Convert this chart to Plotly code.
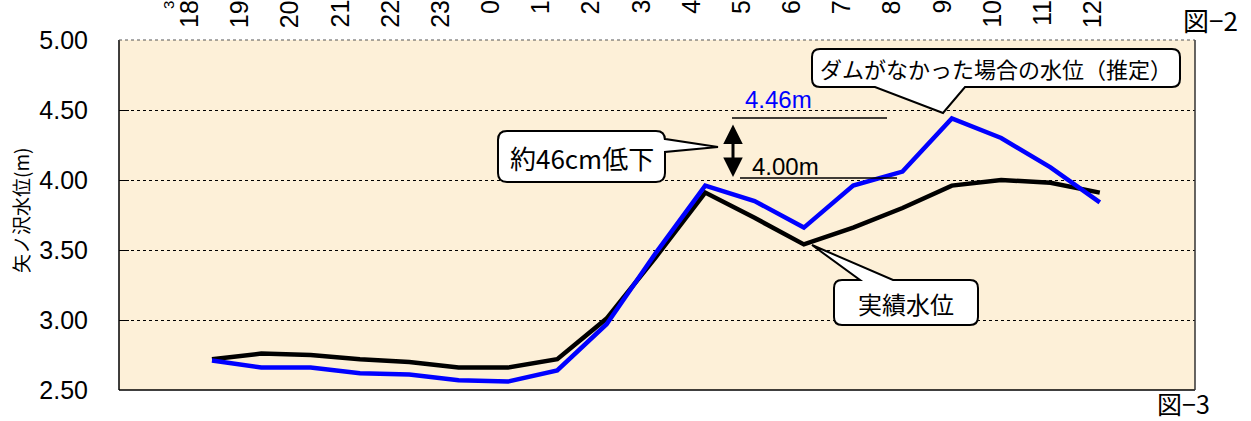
import plotly.graph_objects as go

# ---- data ----
hours_idx = list(range(19))
actual_level = [2.72, 2.76, 2.75, 2.72, 2.70, 2.66, 2.66, 2.72, 3.01, 3.45,
                3.91, 3.73, 3.54, 3.66, 3.80, 3.96, 4.00, 3.98, 3.91]
nodam_level = [2.71, 2.66, 2.66, 2.62, 2.61, 2.57, 2.56, 2.64, 2.97, 3.48,
               3.96, 3.85, 3.66, 3.96, 4.06, 4.44, 4.30, 4.09, 3.84]
top_labels = ["18", "19", "20", "21", "22", "23", "0", "1", "2", "3",
              "4", "5", "6", "7", "8", "9", "10", "11", "12"]
y_ticks = [2.5, 3.0, 3.5, 4.0, 4.5, 5.0]

W, H = 1251, 421
L, R, T, B = 119, 1195, 40, 390

def px(x):
    return (x - L) / (R - L)

def py(y):
    return (B - y) / (B - T)

BG = "#FDF0D8"
LAT = "Liberation Sans, Arial, Noto Sans CJK JP"
JP = "Noto Sans CJK JP, Liberation Sans"

fig = go.Figure()
fig.add_trace(go.Scatter(x=hours_idx, y=actual_level, mode="lines",
                         line=dict(color="#000000", width=4.5), showlegend=False,
                         hoverinfo="skip"))
fig.add_trace(go.Scatter(x=hours_idx, y=nodam_level, mode="lines",
                         line=dict(color="#0000FF", width=4.5), showlegend=False,
                         hoverinfo="skip"))
fig.add_trace(go.Scatter(x=[], y=[], xaxis="x2", showlegend=False))

shapes = []
annotations = []

# frame
shapes.append(dict(type="line", xref="paper", yref="paper", x0=0, x1=0, y0=0, y1=1,
                   line=dict(color="#000000", width=1.5)))
shapes.append(dict(type="line", xref="paper", yref="paper", x0=0, x1=1, y0=0, y1=0,
                   line=dict(color="#000000", width=1.5)))
shapes.append(dict(type="line", xref="paper", yref="paper", x0=1, x1=1, y0=0, y1=1,
                   line=dict(color="#333333", width=1.5)))
shapes.append(dict(type="line", xref="paper", yref="paper", x0=0, x1=1, y0=1, y1=1,
                   line=dict(color="#555555", width=1, dash="dot")))


def path_from(points_cmds):
    out = []
    for cmd in points_cmds:
        c = cmd[0]
        pts = cmd[1:]
        s = c + " " + " ".join(f"{px(a):.5f},{py(b):.5f}" for a, b in pts)
        out.append(s)
    return " ".join(out) + " Z"


def rounded_box(x0, y0, x1, y1, r, top=None, right=None, bottom=None):
    cmds = [("M", (x0 + r, y0))]
    if top:
        cmds += [("L", top[0]), ("L", top[1]), ("L", top[2])]
    cmds += [("L", (x1 - r, y0)), ("Q", (x1, y0), (x1, y0 + r))]
    if right:
        cmds += [("L", right[0]), ("L", right[1]), ("L", right[2])]
    cmds += [("L", (x1, y1 - r)), ("Q", (x1, y1), (x1 - r, y1))]
    if bottom:
        cmds += [("L", bottom[0]), ("L", bottom[1]), ("L", bottom[2])]
    cmds += [("L", (x0 + r, y1)), ("Q", (x0, y1), (x0, y1 - r)),
             ("L", (x0, y0 + r)), ("Q", (x0, y0), (x0 + r, y0))]
    return path_from(cmds)


callout_line = dict(color="#000000", width=2)
# "ダムがなかった場合の水位（推定）"
shapes.append(dict(type="path", xref="paper", yref="paper",
                   path=rounded_box(812, 49, 1180, 87, 8,
                                    bottom=[(965, 87), (943, 113), (875, 87)]),
                   fillcolor="#FFFFFF", line=callout_line))
# "約46cm低下"
shapes.append(dict(type="path", xref="paper", yref="paper",
                   path=rounded_box(498, 131, 665, 182, 9,
                                    right=[(665, 139), (718, 147), (665, 152)]),
                   fillcolor="#FFFFFF", line=callout_line))
# "実績水位"
shapes.append(dict(type="path", xref="paper", yref="paper",
                   path=rounded_box(834, 280, 978, 325, 8,
                                    top=[(860, 280), (812, 245), (893, 280)]),
                   fillcolor="#FFFFFF", line=callout_line))

# reference lines for 4.46m / 4.00m
shapes.append(dict(type="line", xref="paper", yref="paper", x0=px(732), x1=px(887),
                   y0=py(118), y1=py(118), line=dict(color="#000000", width=1.5)))
shapes.append(dict(type="line", xref="paper", yref="paper", x0=px(740), x1=px(897),
                   y0=py(178), y1=py(178), line=dict(color="#000000", width=1.5)))

# double arrow
annotations.append(dict(xref="paper", yref="paper", x=px(733), y=py(177), ax=0, ay=-54,
                        axref="pixel", ayref="pixel", showarrow=True, arrowhead=2,
                        startarrowhead=2, arrowside="end+start", arrowsize=1.3,
                        startarrowsize=1.3, arrowwidth=3, arrowcolor="#000000", text=""))

def txt(x, y, s, size, color="#000000", family=JP, angle=0, xa="center", ya="middle"):
    annotations.append(dict(xref="paper", yref="paper", x=px(x), y=py(y), text=s,
                            showarrow=False, textangle=angle, xanchor=xa, yanchor=ya,
                            font=dict(size=size, color=color, family=family)))

txt(996, 68, "ダムがなかった場合の水位（推定）", 22)
txt(582, 157, "約46cm低下", 26)
txt(906, 303, "実績水位", 24)
txt(778, 99, "4.46m", 24, color="#0000FF", family=LAT)
txt(785, 166, "4.00m", 24, family=LAT)
txt(20, 211, "矢ノ沢水位(m)", 19, angle=-90)
txt(1210, 20, "図−2", 26, xa="center")
txt(1183, 403, "図−3", 25, xa="center")

# top labels (axis of the chart above, cropped)
for i, lab in enumerate(top_labels):
    annotations.append(dict(xref="x2", yref="paper", x=i, y=py(-2), text=lab,
                            showarrow=False, textangle=-90, xanchor="center",
                            yanchor="top", font=dict(size=25, color="#000000", family=LAT)))
annotations.append(dict(xref="x2", yref="paper", x=-0.4, y=py(-1), text="3",
                        showarrow=False, textangle=-90, xanchor="center",
                        yanchor="top", font=dict(size=15, color="#000000", family=LAT)))

fig.update_layout(
    width=W, height=H,
    margin=dict(l=L, r=W - R, t=T, b=H - B, pad=0),
    paper_bgcolor="#FFFFFF",
    plot_bgcolor=BG,
    shapes=shapes,
    annotations=annotations,
    xaxis=dict(range=[-1.885, 19.93], showticklabels=False, showgrid=False,
               zeroline=False, ticks="", showline=False, fixedrange=True),
    xaxis2=dict(range=[-1.395, 20.05], overlaying="x", visible=False, side="top"),
    yaxis=dict(range=[2.5, 5.0], tickvals=y_ticks, tickformat=".2f",
               ticks="inside", ticklen=10, tickcolor="#000000", tickwidth=1,
               showgrid=True, gridcolor="#000000", gridwidth=1, griddash="dot",
               zeroline=False, showline=False, ticklabelstandoff=30,
               tickfont=dict(size=25, color="#000000", family=LAT)),
)

fig.write_html("out.html", config={"displayModeBar": False},
               post_script="document.body.style.margin='0';document.body.style.overflow='hidden';")
